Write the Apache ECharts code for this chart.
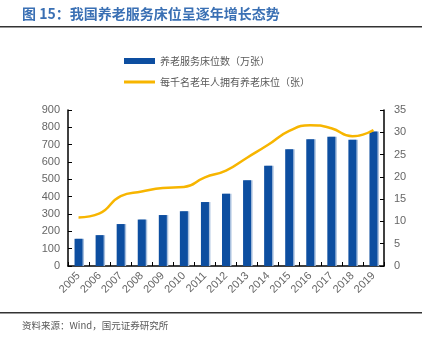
<!DOCTYPE html>
<html>
<head>
<meta charset="utf-8">
<script src="https://cdn.jsdelivr.net/npm/echarts@6/dist/echarts.min.js"></script>
<style>
html, body { margin: 0; padding: 0; background: #fff; }
#container { width: 437px; height: 353px; }
</style>
</head>
<body>
<div id="container"></div>
<script>
// 数据
var years = ['2005', '2006', '2007', '2008', '2009', '2010', '2011', '2012', '2013', '2014', '2015', '2016', '2017', '2018', '2019'];
var bedCount = [157, 178, 242, 268, 294, 316, 369, 417, 494, 578, 673, 731, 746, 729, 776]; // 万张
var bedsPerThousand = [10.9, 11.8, 15.7, 16.7, 17.5, 17.7, 19.9, 21.4, 24.3, 27.2, 30.3, 31.6, 30.9, 29.1, 30.5]; // 张
var barName = '养老服务床位数（万张）';
var lineName = '每千名老年人拥有养老床位（张）';

var container = echarts.init(document.getElementById('container'));
var labelColor = '#666666';
var fontCJK = '"Noto Sans CJK SC", "DejaVu Sans", sans-serif';

var option = {
    animation: false,
    textStyle: { fontFamily: fontCJK },
    graphic: [
        {
            type: 'text', left: 22, top: 7,
            style: { text: '图 15：我国养老服务床位呈逐年增长态势', fill: '#3a70b4', font: 'bold 14px ' + fontCJK }
        },
        { type: 'rect', shape: { x: 0, y: 26, width: 422, height: 1.5 }, style: { fill: '#333' } },
        { type: 'rect', shape: { x: 0, y: 312, width: 422, height: 1.5 }, style: { fill: '#333' } },
        {
            type: 'text', left: 22, top: 321,
            style: { text: '资料来源：Wind，国元证券研究所', fill: '#595959', font: '9.5px ' + fontCJK }
        }
    ],
    legend: [
        {
            data: [{ name: barName, icon: 'rect' }],
            left: 124, top: 56, padding: 0,
            itemWidth: 31, itemHeight: 6, itemGap: 4,
            textStyle: { color: '#595959', fontSize: 10, fontFamily: fontCJK }
        },
        {
            data: [{ name: lineName, icon: 'rect' }],
            left: 124, top: 77, padding: 0,
            itemWidth: 31, itemHeight: 3, itemGap: 4,
            textStyle: { color: '#595959', fontSize: 10, fontFamily: fontCJK }
        }
    ],
    grid: { left: 68, right: 53, top: 110, bottom: 87 },
    xAxis: {
        type: 'category',
        data: years,
        axisLine: { lineStyle: { color: '#000', width: 1.5 } },
        axisTick: { show: true, inside: true, length: 4, lineStyle: { color: '#000' } },
        axisLabel: { interval: 0, rotate: 45, color: labelColor, fontSize: 11, margin: 8, fontFamily: 'Liberation Sans, Arial' }
    },
    yAxis: [
        {
            type: 'value', min: 0, max: 900, interval: 100,
            axisLine: { show: true, lineStyle: { color: '#000', width: 1.5 } },
            axisTick: { show: true, inside: true, length: 4, lineStyle: { color: '#000' } },
            splitLine: { show: false },
            axisLabel: { color: labelColor, fontSize: 11, margin: 8, fontFamily: 'Liberation Sans, Arial' }
        },
        {
            type: 'value', min: 0, max: 35, interval: 5,
            axisLine: { show: true, lineStyle: { color: '#000', width: 1.5 } },
            axisTick: { show: true, inside: true, length: 4, lineStyle: { color: '#000' } },
            splitLine: { show: false },
            axisLabel: { color: labelColor, fontSize: 11, margin: 10, fontFamily: 'Liberation Sans, Arial' }
        }
    ],
    series: [
        {
            name: barName,
            type: 'bar',
            data: bedCount,
            barWidth: 8,
            itemStyle: {
                color: '#0d4ea0',
                shadowColor: '#a9c0de',
                shadowOffsetX: 1.5,
                shadowBlur: 0
            }
        },
        {
            name: lineName,
            type: 'line',
            yAxisIndex: 1,
            data: bedsPerThousand,
            smooth: true,
            showSymbol: false,
            symbol: 'none',
            itemStyle: { color: '#f7b500' },
            lineStyle: { color: '#f7b500', width: 2.5 }
        }
    ]
};
container.setOption(option, true);
</script>
</body>
</html>
